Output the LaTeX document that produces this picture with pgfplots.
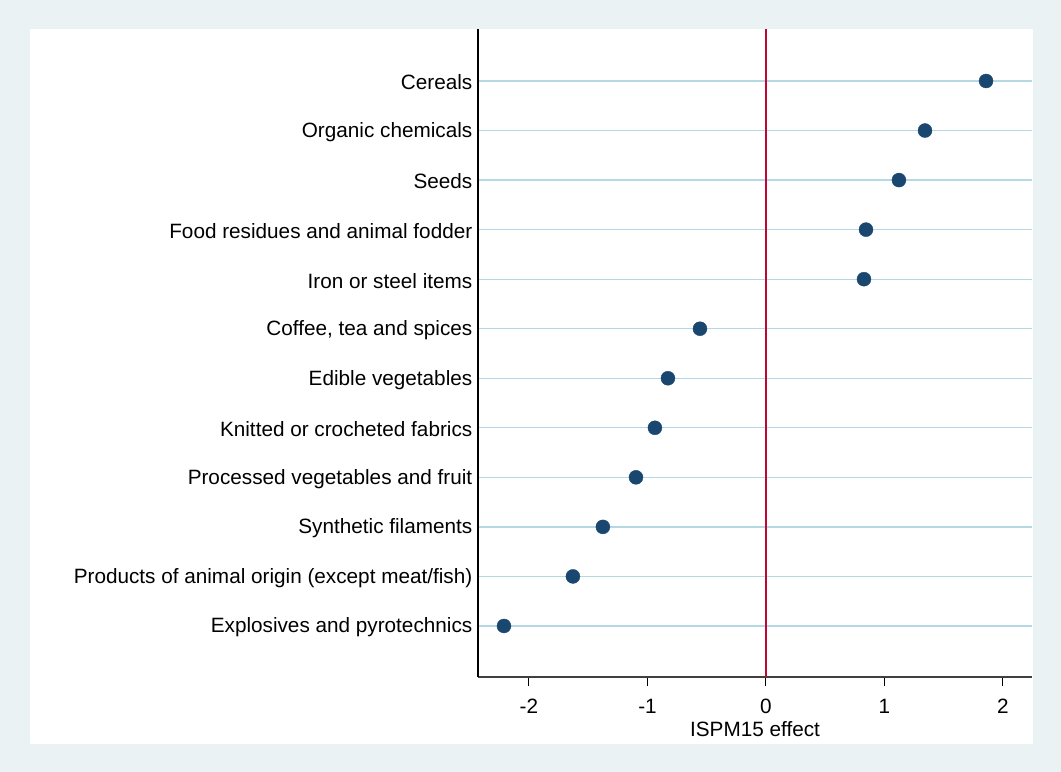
\documentclass[border=0pt]{standalone}
\usepackage{pgfplots}
\pgfplotsset{compat=1.18}
\usepackage{fontspec}
\setmainfont{Liberation Sans}
\definecolor{bgout}{HTML}{EAF2F3}
\definecolor{stnavy}{HTML}{1A476F}
\definecolor{stred}{HTML}{C10534}
\definecolor{gridblue}{HTML}{B4D8E4}
\begin{document}
\begin{tikzpicture}[x=1bp,y=1bp]
% graph region and plot region backgrounds
\fill[bgout] (0,0) rectangle (1061,772);
\fill[white] (30,28) rectangle (1033,743);
\begin{axis}[
  at={(478bp,95bp)}, anchor=south west,
  width=554bp, height=648bp, scale only axis,
  xmin=-2.43, xmax=2.245, ymin=-0.03, ymax=13.05,
  axis x line*=bottom, axis y line*=left,
  x axis line style={draw=black!75, line width=1.2bp},
  y axis line style={draw=black, line width=1.2bp},
  xtick={-2,-1,0,1,2},
  xticklabels={-2,-1,0,1,2},
  x tick style={black, line width=1bp},
  xtick align=outside,
  major tick length=9bp,
  ytick={1,...,12},
  yticklabels={Explosives and pyrotechnics,
    Products of animal origin (except meat/fish),
    Synthetic filaments,
    Processed vegetables and fruit,
    Knitted or crocheted fabrics,
    Edible vegetables,
    {Coffee, tea and spices},
    Iron or steel items,
    Food residues and animal fodder,
    Seeds,
    Organic chemicals,
    Cereals},
  y tick style={draw=none},
  ymajorgrids,
  major grid style={gridblue, line width=1.3bp},
  tick label style={font=\fontsize{20.8}{23}\selectfont, text=black},
  yticklabel style={inner sep=1.5bp, xshift=-4bp, yshift=-1.5bp},
  xticklabel style={inner sep=2bp, yshift=-11bp},
  xlabel={ISPM15 effect},
  xlabel style={font=\fontsize{20.8}{23}\selectfont, inner sep=0bp, yshift=-5.5bp},
  clip=false,
]
\addplot[stred, line width=2bp] coordinates {(0,-0.03) (0,13.05)};
\addplot[only marks, mark=*, mark size=7bp, stnavy, mark options={fill=stnavy, draw=stnavy}] coordinates {
  (1.857,12)
  (1.342,11)
  (1.122,10)
  (0.844,9)
  (0.827,8)
  (-0.557,7)
  (-0.827,6)
  (-0.937,5)
  (-1.097,4)
  (-1.376,3)
  (-1.629,2)
  (-2.211,1)
};
\end{axis}
\end{tikzpicture}
\end{document}
